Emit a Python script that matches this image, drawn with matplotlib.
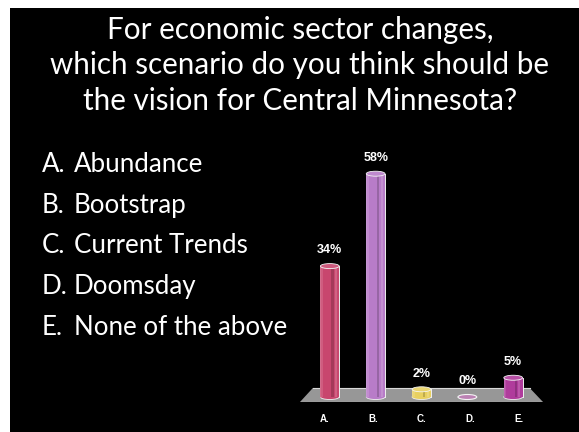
import matplotlib
matplotlib.use("Agg")
import matplotlib.pyplot as plt
import matplotlib.colors as mc
from matplotlib.patches import Rectangle, Ellipse, Polygon

# Poll results
categories = ["A.", "B.", "C.", "D.", "E."]
options = ["Abundance", "Bootstrap", "Current Trends", "Doomsday", "None of the above"]
percent = [34, 58, 2, 0, 5]
bar_colors = ["#c8466e", "#b87cc8", "#e8d060", "#b574ac", "#b03c9c"]
title_lines = ["For economic sector changes,",
               "which scenario do you think should be",
               "the vision for Central Minnesota?"]

W, H = 579, 432
fig = plt.figure(figsize=(W / 100, H / 100), dpi=100, facecolor="white")

# Black slide background
fig.patches.append(Rectangle((10 / W, 0), 1 - 10 / W, (H - 8) / H,
                             transform=fig.transFigure, facecolor="black",
                             edgecolor="none", zorder=-5))

text_font = "Lato"
baselines = [39, 74, 110]
for line, yb in zip(title_lines, baselines):
    fig.text(300 / W, 1 - yb / H, line, ha="center", va="baseline",
             color="white", fontsize=21.3, family=text_font)

list_base = [172, 213, 253, 294, 335]
for cat, opt, yb in zip(categories, options, list_base):
    fig.text(42 / W, 1 - yb / H, cat, ha="left", va="baseline",
             color="white", fontsize=18.6, family=text_font)
    fig.text(74 / W, 1 - yb / H, opt, ha="left", va="baseline",
             color="white", fontsize=18.6, family=text_font)

# Chart axes: y=0 sits on the floor, 3.85 px per percent
ax = fig.add_axes([300 / W, 30 / H, 243 / W, (402 - 150.6) / H])
ax.set_xlim(-0.65, 4.65)
ax.set_ylim(-1.3, 64)
ax.axis("off")

# Gray floor in perspective
floor = Polygon([(-0.65, -1.3), (4.65, -1.3), (4.36, 2.34), (-0.37, 2.34)],
                closed=True, facecolor="#979797", edgecolor="none", zorder=1)
ax.add_patch(floor)
ax.plot([-0.37, 4.36], [2.34, 2.34], color="#d8d8d8", lw=0.8, zorder=1.5)
ax.plot([-0.65, 4.65], [-1.3, -1.3], color="#e0e0e0", lw=0.8, zorder=1.5)

bw = 0.41
eh = 1.3


def shade(c, f):
    r, g, b = mc.to_rgb(c)
    if f < 0:
        return (r * (1 + f), g * (1 + f), b * (1 + f))
    return (r + (1 - r) * f, g + (1 - g) * f, b + (1 - b) * f)


for i, (v, c) in enumerate(zip(percent, bar_colors)):
    if v > 0:
        # bottom cap
        ax.add_patch(Ellipse((i, 0), bw, eh, facecolor=c, edgecolor="#f0f0f0",
                             lw=0.6, zorder=2))
        # body
        ax.add_patch(Rectangle((i - bw / 2, 0), bw, v, facecolor=c,
                               edgecolor="none", zorder=2.1))
        # vertical shading stripes for the cylinder look
        ax.add_patch(Rectangle((i + bw * 0.08, 0), bw * 0.12, v,
                               facecolor=shade(c, -0.18), edgecolor="none", zorder=2.2))
        ax.add_patch(Rectangle((i + bw * 0.28, 0), bw * 0.1, v,
                               facecolor=shade(c, 0.15), edgecolor="none", zorder=2.2))
        ax.add_patch(Rectangle((i - bw * 0.45, 0), bw * 0.08, v,
                               facecolor=shade(c, 0.12), edgecolor="none", zorder=2.2))
        ax.plot([i + bw / 2, i + bw / 2], [0, v], color="#f0f0f0", lw=0.7, zorder=2.3)
        ax.plot([i - bw / 2, i - bw / 2], [0, v], color=shade(c, 0.3), lw=0.5, zorder=2.3)
        # top cap
        ax.add_patch(Ellipse((i, v), bw, eh, facecolor=shade(c, 0.1),
                             edgecolor="#f4f4f4", lw=0.6, zorder=2.4))
    else:
        ax.add_patch(Ellipse((i, 0), bw, eh, facecolor=shade(c, 0.1),
                             edgecolor="#f4f4f4", lw=0.8, zorder=2.4))
    ax.annotate(f"{v}%", (i, v), xytext=(0, 7), textcoords="offset points",
                ha="center", va="bottom", color="white", fontsize=9,
                fontweight="bold", family="Liberation Sans", zorder=3)

# Category labels along the front edge of the floor
for i, cat in enumerate(categories):
    ax.annotate(cat, (i + (i - 2) * 0.06, -1.3), xytext=(0, -8.5),
                textcoords="offset points", ha="center", va="top",
                color="white", fontsize=7, fontweight="bold",
                family="Liberation Sans", annotation_clip=False)

fig.savefig("out.png", dpi=100, facecolor=fig.get_facecolor())
